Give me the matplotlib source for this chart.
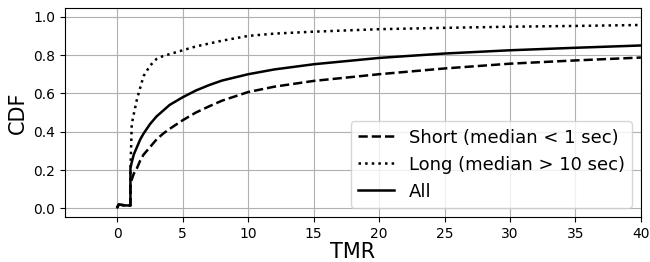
import matplotlib
matplotlib.use("Agg")
import matplotlib.pyplot as plt

# TMR values (x) shared by all three CDF curves
tmr = [0, 0.1, 0.6, 1.0, 1.0, 1.1, 1.25, 1.5, 1.75, 2, 2.5, 3, 3.5, 4, 5, 6,
       7, 8, 10, 12, 15, 20, 25, 30, 35, 40]

cdf_short = [0.005, 0.02, 0.015, 0.015, 0.13, 0.15, 0.18, 0.21, 0.25, 0.28,
             0.32, 0.36, 0.39, 0.415, 0.46, 0.50, 0.532, 0.562, 0.607, 0.635,
             0.665, 0.70, 0.73, 0.755, 0.772, 0.787]
cdf_long = [0.005, 0.02, 0.015, 0.015, 0.20, 0.44, 0.49, 0.57, 0.63, 0.69,
            0.745, 0.78, 0.795, 0.805, 0.825, 0.845, 0.86, 0.875, 0.90, 0.912,
            0.922, 0.935, 0.942, 0.948, 0.952, 0.957]
cdf_all = [0.005, 0.02, 0.015, 0.015, 0.21, 0.24, 0.28, 0.32, 0.36, 0.39,
           0.44, 0.48, 0.51, 0.54, 0.58, 0.615, 0.643, 0.667, 0.70, 0.725,
           0.752, 0.785, 0.808, 0.825, 0.838, 0.85]

labels = ["Short (median < 1 sec)", "Long (median > 10 sec)", "All"]

fig = plt.figure(figsize=(6.5, 2.62), dpi=100)
ax = fig.add_axes([0.1, 0.172, 0.886, 0.797])
ax.plot(tmr, cdf_short, color="black", linestyle="--", linewidth=1.8, label=labels[0])
ax.plot(tmr, cdf_long, color="black", linestyle=":", linewidth=1.8, label=labels[1])
ax.plot(tmr, cdf_all, color="black", linestyle="-", linewidth=1.8, label=labels[2])

ax.set_xlim(-4, 40)
ax.set_ylim(-0.045, 1.045)
ax.set_xticks(range(0, 41, 5))
ax.set_yticks([0, 0.2, 0.4, 0.6, 0.8, 1.0])
ax.tick_params(labelsize=10)
ax.set_xlabel("TMR", fontsize=15, labelpad=1)
ax.set_ylabel("CDF", fontsize=15)
ax.grid(True)
ax.legend(loc="lower right", fontsize=13)

fig.savefig("out.png", dpi=100)
plt.close(fig)
